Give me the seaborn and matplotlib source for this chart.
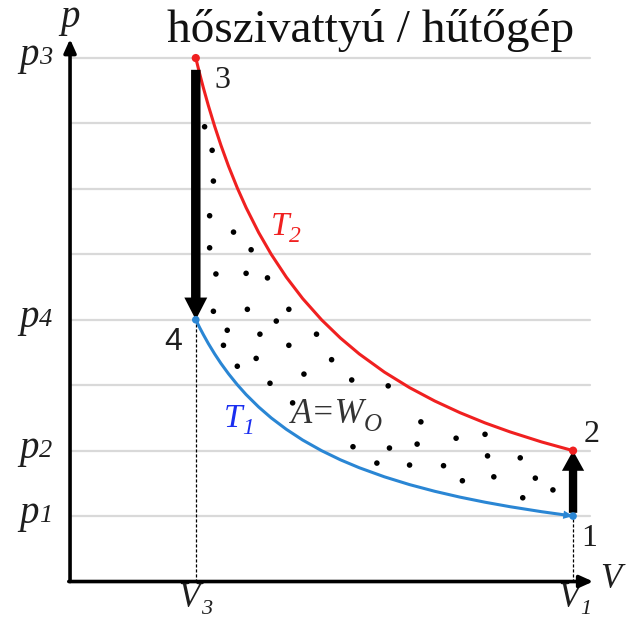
import matplotlib
matplotlib.use("Agg")
import matplotlib.pyplot as plt
import seaborn as sns
import pandas as pd
from matplotlib.patches import FancyArrowPatch

# ---- data ----
V_curve = [1.00, 1.03, 1.06, 1.10, 1.15, 1.20, 1.26, 1.33, 1.40, 1.50, 1.60, 1.72, 1.85,
           2.00, 2.15, 2.30, 2.50, 2.70, 2.90, 3.10, 3.30, 3.50, 3.75, 4.00]
p_T2 = [8.000, 7.767, 7.547, 7.273, 6.957, 6.667, 6.349, 6.015, 5.714, 5.333, 5.000, 4.651,
        4.324, 4.000, 3.721, 3.478, 3.200, 2.963, 2.759, 2.581, 2.424, 2.286, 2.133, 2.000]
p_T1 = [4.000, 3.883, 3.774, 3.636, 3.478, 3.333, 3.175, 3.008, 2.857, 2.667, 2.500, 2.326,
        2.162, 2.000, 1.860, 1.739, 1.600, 1.481, 1.379, 1.290, 1.212, 1.143, 1.067, 1.000]

V3, V1 = 1.0, 4.0
p1, p2, p4, p3 = 1.0, 2.0, 4.0, 8.0
grid_levels = [1, 2, 3, 4, 5, 6, 7, 8]

dots_V = [1.07, 1.13, 1.14, 1.11, 1.30, 1.11, 1.44, 1.16, 1.40, 1.57, 1.14, 1.41, 1.74, 1.64,
          1.25, 1.51, 1.96, 1.22, 1.74, 1.48, 2.08, 1.33, 1.86, 2.24, 1.59, 1.77, 2.53, 2.79,
          3.07, 3.30, 2.25, 2.54, 2.76, 3.32, 3.58, 2.44, 2.70, 2.97, 3.12, 3.37, 3.70, 3.84, 3.60]
dots_p = [6.95, 6.59, 6.12, 5.59, 5.34, 5.10, 5.07, 4.70, 4.71, 4.64, 4.13, 4.16, 4.16, 3.98,
          3.84, 3.78, 3.78, 3.61, 3.61, 3.41, 3.39, 3.29, 3.17, 3.08, 3.03, 2.73, 2.99, 2.44,
          2.19, 2.25, 2.06, 2.04, 2.10, 1.92, 1.89, 1.81, 1.78, 1.77, 1.54, 1.60, 1.58, 1.40, 1.28]

title = "hőszivattyú / hűtőgép"

# ---- style ----
sns.set_theme(style="white")
plt.rcParams['font.family'] = ['Liberation Serif', 'DejaVu Serif']

RED = "#f02020"
BLUE = "#2a86d4"
BLUE_TXT = "#1a2ef0"
INK = "#1e1e1e"

fig = plt.figure(figsize=(6.28, 6.2), dpi=100)
ax = fig.add_axes([0, 0, 1, 1])
ax.set_xlim(-0.557, 4.437)
ax.set_ylim(-0.588, 8.887)
ax.axis("off")


def sub_label(x, y, main, sub, fs, color, sub_fs=None, dy=-4.0, dx=0.0):
    """Italic main letter with an italic subscript; (x, y) = left end, baseline."""
    t = ax.text(x, y, main, ha="left", va="baseline", fontsize=fs, color=color,
                style="italic")
    ax.annotate(sub, xy=(1, 0), xycoords=t, xytext=(dx, dy), textcoords="offset points",
                ha="left", va="bottom", fontsize=sub_fs or fs * 0.66, color=color,
                style="italic")


# grid lines
for g in grid_levels:
    ax.plot([0, 4.135], [g, g], color="#d9d9d9", lw=1.6, zorder=1)

# dashed verticals
ax.plot([V3, V3], [0, p4], color="black", lw=0.9, ls=(0, (2.5, 1.5)), zorder=2)
ax.plot([V1, V1], [0, p1], color="black", lw=0.9, ls=(0, (2.5, 1.5)), zorder=2)

# axes arrows
ax.add_patch(FancyArrowPatch((0, 0), (0, 8.29), arrowstyle="-|>,head_width=3.6,head_length=8",
                             mutation_scale=1, lw=2.6, color="black", zorder=5,
                             shrinkA=0, shrinkB=0))
ax.add_patch(FancyArrowPatch((-0.01, 0), (4.16, 0), arrowstyle="-|>,head_width=3.6,head_length=8",
                             mutation_scale=1, lw=2.6, color="black", zorder=5,
                             shrinkA=0, shrinkB=0))

# isotherms
df = pd.DataFrame({"V": V_curve, "T2": p_T2, "T1": p_T1})
sns.lineplot(data=df, x="V", y="T2", ax=ax, color=RED, lw=2.2, sort=False, zorder=4)
sns.lineplot(data=df, x="V", y="T1", ax=ax, color=BLUE, lw=2.2, sort=False, zorder=4)
ax.add_patch(FancyArrowPatch((V_curve[-2], p_T1[-2]), (V1, p1),
                             arrowstyle="-|>,head_width=3,head_length=7",
                             mutation_scale=1, lw=0, color=BLUE, zorder=4, shrinkA=0, shrinkB=0))

# corner points
sns.scatterplot(x=[V3, V1], y=[p3, p2], ax=ax, color=RED, s=35, edgecolor="none", zorder=6)
sns.scatterplot(x=[V3, V1], y=[p4, p1], ax=ax, color=BLUE, s=30, edgecolor="none", zorder=6)

# dots filling the area
sns.scatterplot(x=dots_V, y=dots_p, ax=ax, color="black", s=16, edgecolor="none", zorder=3)

# thick process arrows
ax.add_patch(FancyArrowPatch((V3, 7.82), (V3, p4),
                             arrowstyle="simple,head_width=16.5,head_length=16,tail_width=6.8",
                             mutation_scale=1, color="black", lw=0, zorder=5, shrinkA=0, shrinkB=0))
ax.add_patch(FancyArrowPatch((V1, 1.05), (V1, p2),
                             arrowstyle="simple,head_width=16,head_length=14.5,tail_width=6",
                             mutation_scale=1, color="black", lw=0, zorder=5, shrinkA=0, shrinkB=0))

# texts
ax.text(2.386, 8.245, title, ha="center", va="baseline", fontsize=34, color="#111111")
ax.text(0.0, 8.47, "p", ha="center", va="baseline", fontsize=28, color=INK, style="italic")
for lab, val in [("3", p3), ("4", p4), ("2", p2), ("1", p1)]:
    sub_label(-0.405, val - 0.11, "p", lab, 28, INK, sub_fs=19, dy=3.5, dx=0.5)

ax.text(-0.557 + 600 / 125.75, -0.1, "V", ha="left", va="baseline", fontsize=25,
        color=INK, style="italic")
sub_label(0.86, -0.39, "V", "3", 25, INK, sub_fs=16, dy=-2.5, dx=1)
sub_label(3.88, -0.39, "V", "1", 25, INK, sub_fs=16, dy=-2.5, dx=1)

ax.text(1.21, 7.66, "3", ha="center", va="center", fontsize=23, color=INK)
ax.text(0.82, 3.66, "4", ha="center", va="center", fontsize=23, color=INK,
        family=["Liberation Sans", "DejaVu Sans"])
ax.text(4.15, 2.24, "2", ha="center", va="center", fontsize=23, color=INK)
ax.text(4.127, 0.66, "1", ha="center", va="center", fontsize=23, color=INK)

sub_label(1.595, 5.295, "T", "2", 24, RED, sub_fs=17, dy=-3.5, dx=0)
sub_label(1.22, 2.36, "T", "1", 24, BLUE_TXT, sub_fs=17, dy=-3.5, dx=0)
t = ax.text(1.76, 2.42, "A=W", ha="left", va="baseline", fontsize=25, color="#333333",
            style="italic")
ax.annotate("O", xy=(1, 0), xycoords=t, xytext=(-1, -3.5), textcoords="offset points",
            ha="left", va="bottom", fontsize=18, color="#333333", style="italic")

fig.savefig("out.png", dpi=100)
